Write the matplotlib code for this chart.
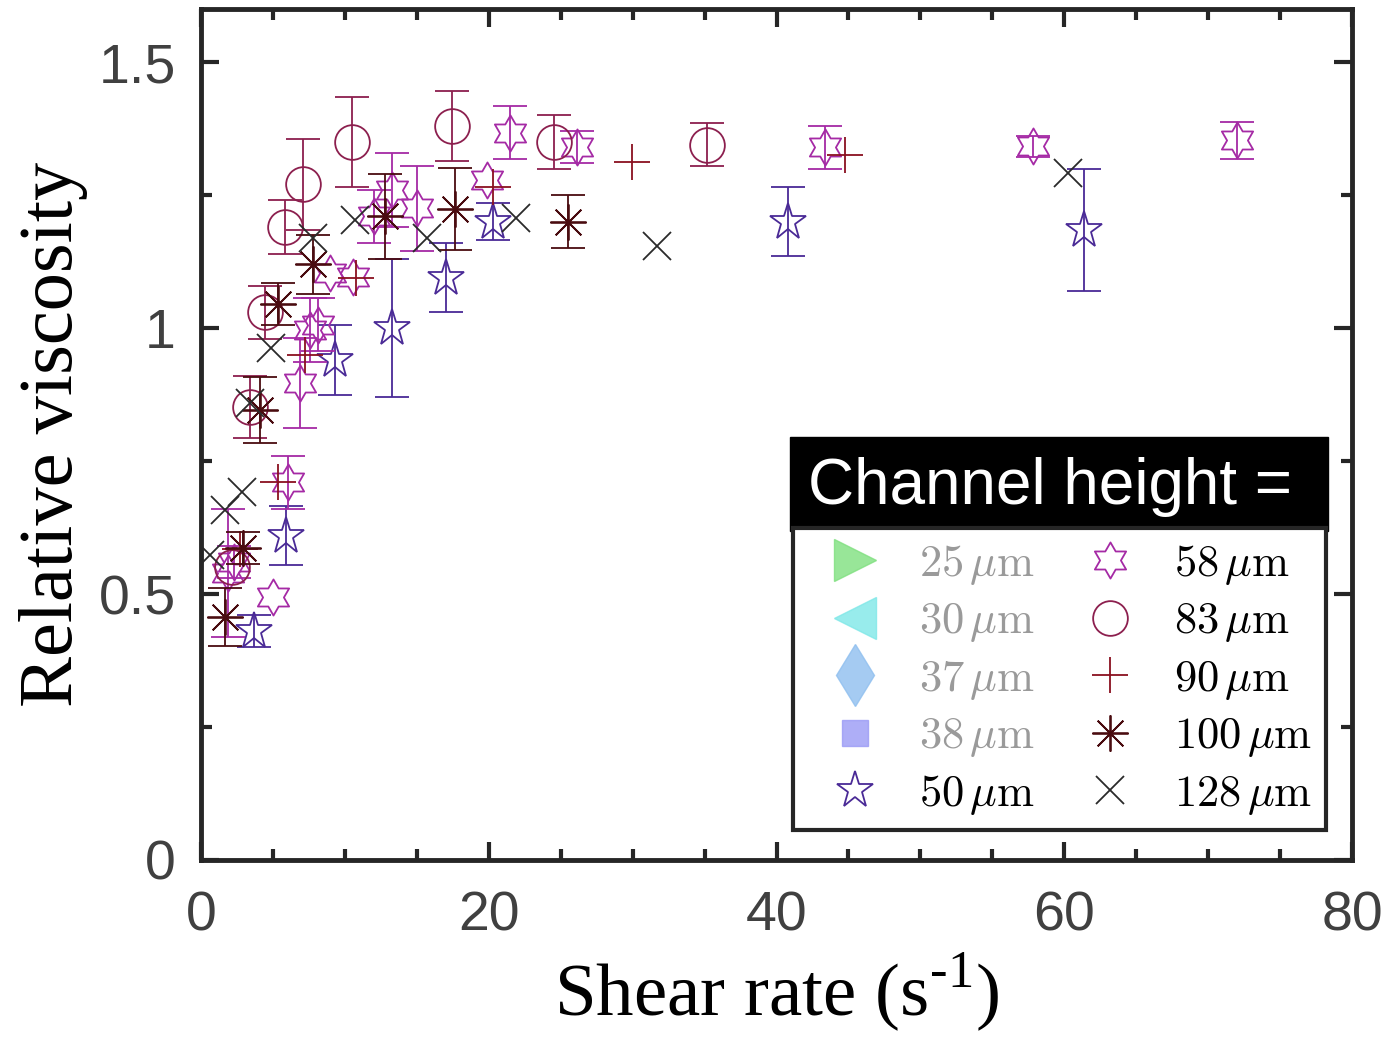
import numpy as np
import matplotlib
matplotlib.use("Agg")
import matplotlib.pyplot as plt
from matplotlib.path import Path
from matplotlib.lines import Line2D
from matplotlib.patches import Rectangle

plt.rcParams['mathtext.fontset'] = 'cm'
plt.rcParams['mathtext.rm'] = 'Liberation Serif'

# --- data ---
# 50 um (pentagram)
x50 = [3.7, 5.9, 9.3, 13.3, 17.0, 20.3, 40.8, 61.4]
y50 = [0.43, 0.61, 0.94, 1.0, 1.095, 1.2, 1.2, 1.185]
e50 = [0.03, 0.055, 0.065, 0.13, 0.065, 0.035, 0.065, 0.115]

# 58 um (hexagram)
x58 = [1.9, 2.3, 5.0, 6.05, 6.9, 7.6, 8.1, 9.0, 10.55, 12.0, 13.3, 15.0, 19.9, 21.5, 26.1, 43.4, 57.8, 72.0]
y58 = [0.54, 0.56, 0.494, 0.71, 0.897, 0.996, 1.006, 1.103, 1.096, 1.21, 1.26, 1.225, 1.278, 1.367, 1.34, 1.34, 1.342, 1.353]
e58 = [0.12, 0.03, 0.0, 0.05, 0.085, 0.06, 0.05, 0.0, 0.0, 0.05, 0.07, 0.08, 0.0, 0.05, 0.03, 0.04, 0.02, 0.035]

# 83 um (circle)
x83 = [2.15, 3.4, 4.45, 5.85, 7.1, 10.5, 17.45, 24.5, 35.2]
y83 = [0.551, 0.852, 1.03, 1.19, 1.27, 1.35, 1.38, 1.35, 1.345]
e83 = [0.0, 0.058, 0.05, 0.05, 0.085, 0.085, 0.066, 0.05, 0.04]

# 90 um (plus)
x90 = [2.7, 5.35, 7.2, 10.8, 20.3, 29.95, 44.75]
y90 = [0.585, 0.71, 0.95, 1.094, 1.265, 1.312, 1.325]
e90 = [0, 0, 0, 0, 0, 0, 0]

# 100 um (asterisk)
x100 = [1.67, 2.9, 4.1, 5.35, 7.8, 12.8, 17.65, 25.5]
y100 = [0.457, 0.586, 0.846, 1.045, 1.12, 1.21, 1.224, 1.2]
e100 = [0.055, 0.03, 0.062, 0.04, 0.055, 0.08, 0.077, 0.05]

# 128 um (cross)
x128 = [0.63, 1.67, 2.85, 3.4, 4.9, 7.8, 10.7, 15.7, 21.9, 31.7, 60.25]
y128 = [0.573, 0.658, 0.692, 0.86, 0.962, 1.17, 1.203, 1.17, 1.207, 1.154, 1.291]
e128 = [0] * 11

hidden_labels = ['25', '30', '37', '38']
shown_labels = ['50', '58', '83', '90', '100', '128']

hexagram = Path.unit_regular_star(6, 0.577)

c50 = '#4a2a96'
c58 = '#a52aa5'
c83 = '#8c1f4e'
c90 = '#8a1020'
c100 = '#4a0c10'
c128 = '#2a2a2a'

series = [
    (x50, y50, e50, '*', c50, 28),
    (x58, y58, e58, hexagram, c58, 26),
    (x83, y83, e83, 'o', c83, 25),
    (x90, y90, e90, '+', c90, 26),
    (x100, y100, e100, (8, 2, 0), c100, 26),
    (x128, y128, e128, 'x', c128, 20),
]

fig = plt.figure(figsize=(13.89, 10.42), dpi=100)
ax = fig.add_axes([0.1447, 0.1747, 0.8287, 0.8167])

handles = []
for xs, ys, es, mk, col, ms in series:
    xs = np.array(xs); ys = np.array(ys); es = np.array(es)
    m = es > 0
    if m.any():
        ax.errorbar(xs[m], ys[m], yerr=es[m], fmt='none', ecolor=col,
                    elinewidth=1.3, capsize=12, capthick=1.3)
    h, = ax.plot(xs, ys, linestyle='none', marker=mk, markersize=ms,
                 markerfacecolor='none', markeredgecolor=col, markeredgewidth=1.3)
    handles.append(h)

# greyed out entries (no data shown)
ghost = [
    ('>', '#7fe07f', 30),
    ('<', '#7fe8e8', 30),
    ('d', '#8fbfef', 32),
    ('s', '#9a9af5', 19),
]
ghost_handles = []
for mk, col, ms in ghost:
    g = Line2D([], [], linestyle='none', marker=mk, markersize=ms,
               markerfacecolor=col, markeredgecolor=col, alpha=0.8)
    ghost_handles.append(g)

all_handles = ghost_handles + handles
all_labels = [r'$\mathrm{%s}\,\mu\mathrm{m}$' % s for s in hidden_labels + shown_labels]

ax.set_xlim(0, 80)
ax.set_ylim(0, 1.6)
ax.set_xticks([0, 20, 40, 60, 80])
ax.set_xticks(np.arange(0, 81, 5), minor=True)
ax.set_yticks([0, 0.5, 1, 1.5])
ax.set_yticklabels(['0', '0.5', '1', '1.5'])
ax.set_yticks(np.arange(0, 1.61, 0.25), minor=True)
ax.tick_params(which='both', direction='in', top=True, right=True, width=3, color='#262626')
ax.tick_params(which='major', length=13, labelsize=40, labelcolor='#404040')
ax.tick_params(axis='y', which='major', pad=18)
ax.tick_params(axis='x', which='major', pad=22)
ax.tick_params(which='minor', length=8)
for lab in ax.get_xticklabels() + ax.get_yticklabels():
    lab.set_fontfamily('Liberation Sans')
for sp in ax.spines.values():
    sp.set_linewidth(3.5)
    sp.set_color('#262626')

ax.set_xlabel(r'Shear rate (s$^{\text{-1}}$)', fontsize=54, family='Liberation Serif',
              math_fontfamily='custom', labelpad=6)
ax.set_ylabel('Relative viscosity', fontsize=55, family='Liberation Serif', labelpad=8)

leg = ax.legend(all_handles, all_labels, ncol=2, loc='lower left',
                bbox_to_anchor=(0.514, 0.0353, 0.463, 0.347), mode='expand',
                borderaxespad=0, fontsize=32, frameon=True, fancybox=False,
                framealpha=1, edgecolor='#262626', labelspacing=0.28,
                handlelength=2.2, handletextpad=0.35, columnspacing=1.0,
                borderpad=0.3)
leg.get_frame().set_linewidth(3)
for i, t in enumerate(leg.get_texts()):
    if i < 4:
        t.set_color('#9a9a9a')

ax.add_patch(Rectangle((0.5117, 0.3866), 0.4675, 0.1104, transform=ax.transAxes,
                       facecolor='black', edgecolor='black', clip_on=False, zorder=5))
ax.text(0.5117 + 0.4675 / 2 - 0.008, 0.3866 + 0.1104 / 2 - 0.004, 'Channel height =',
        transform=ax.transAxes, ha='center', va='center', color='white',
        fontsize=46, family='Liberation Sans', zorder=6)

fig.savefig('out.png', dpi=100)
